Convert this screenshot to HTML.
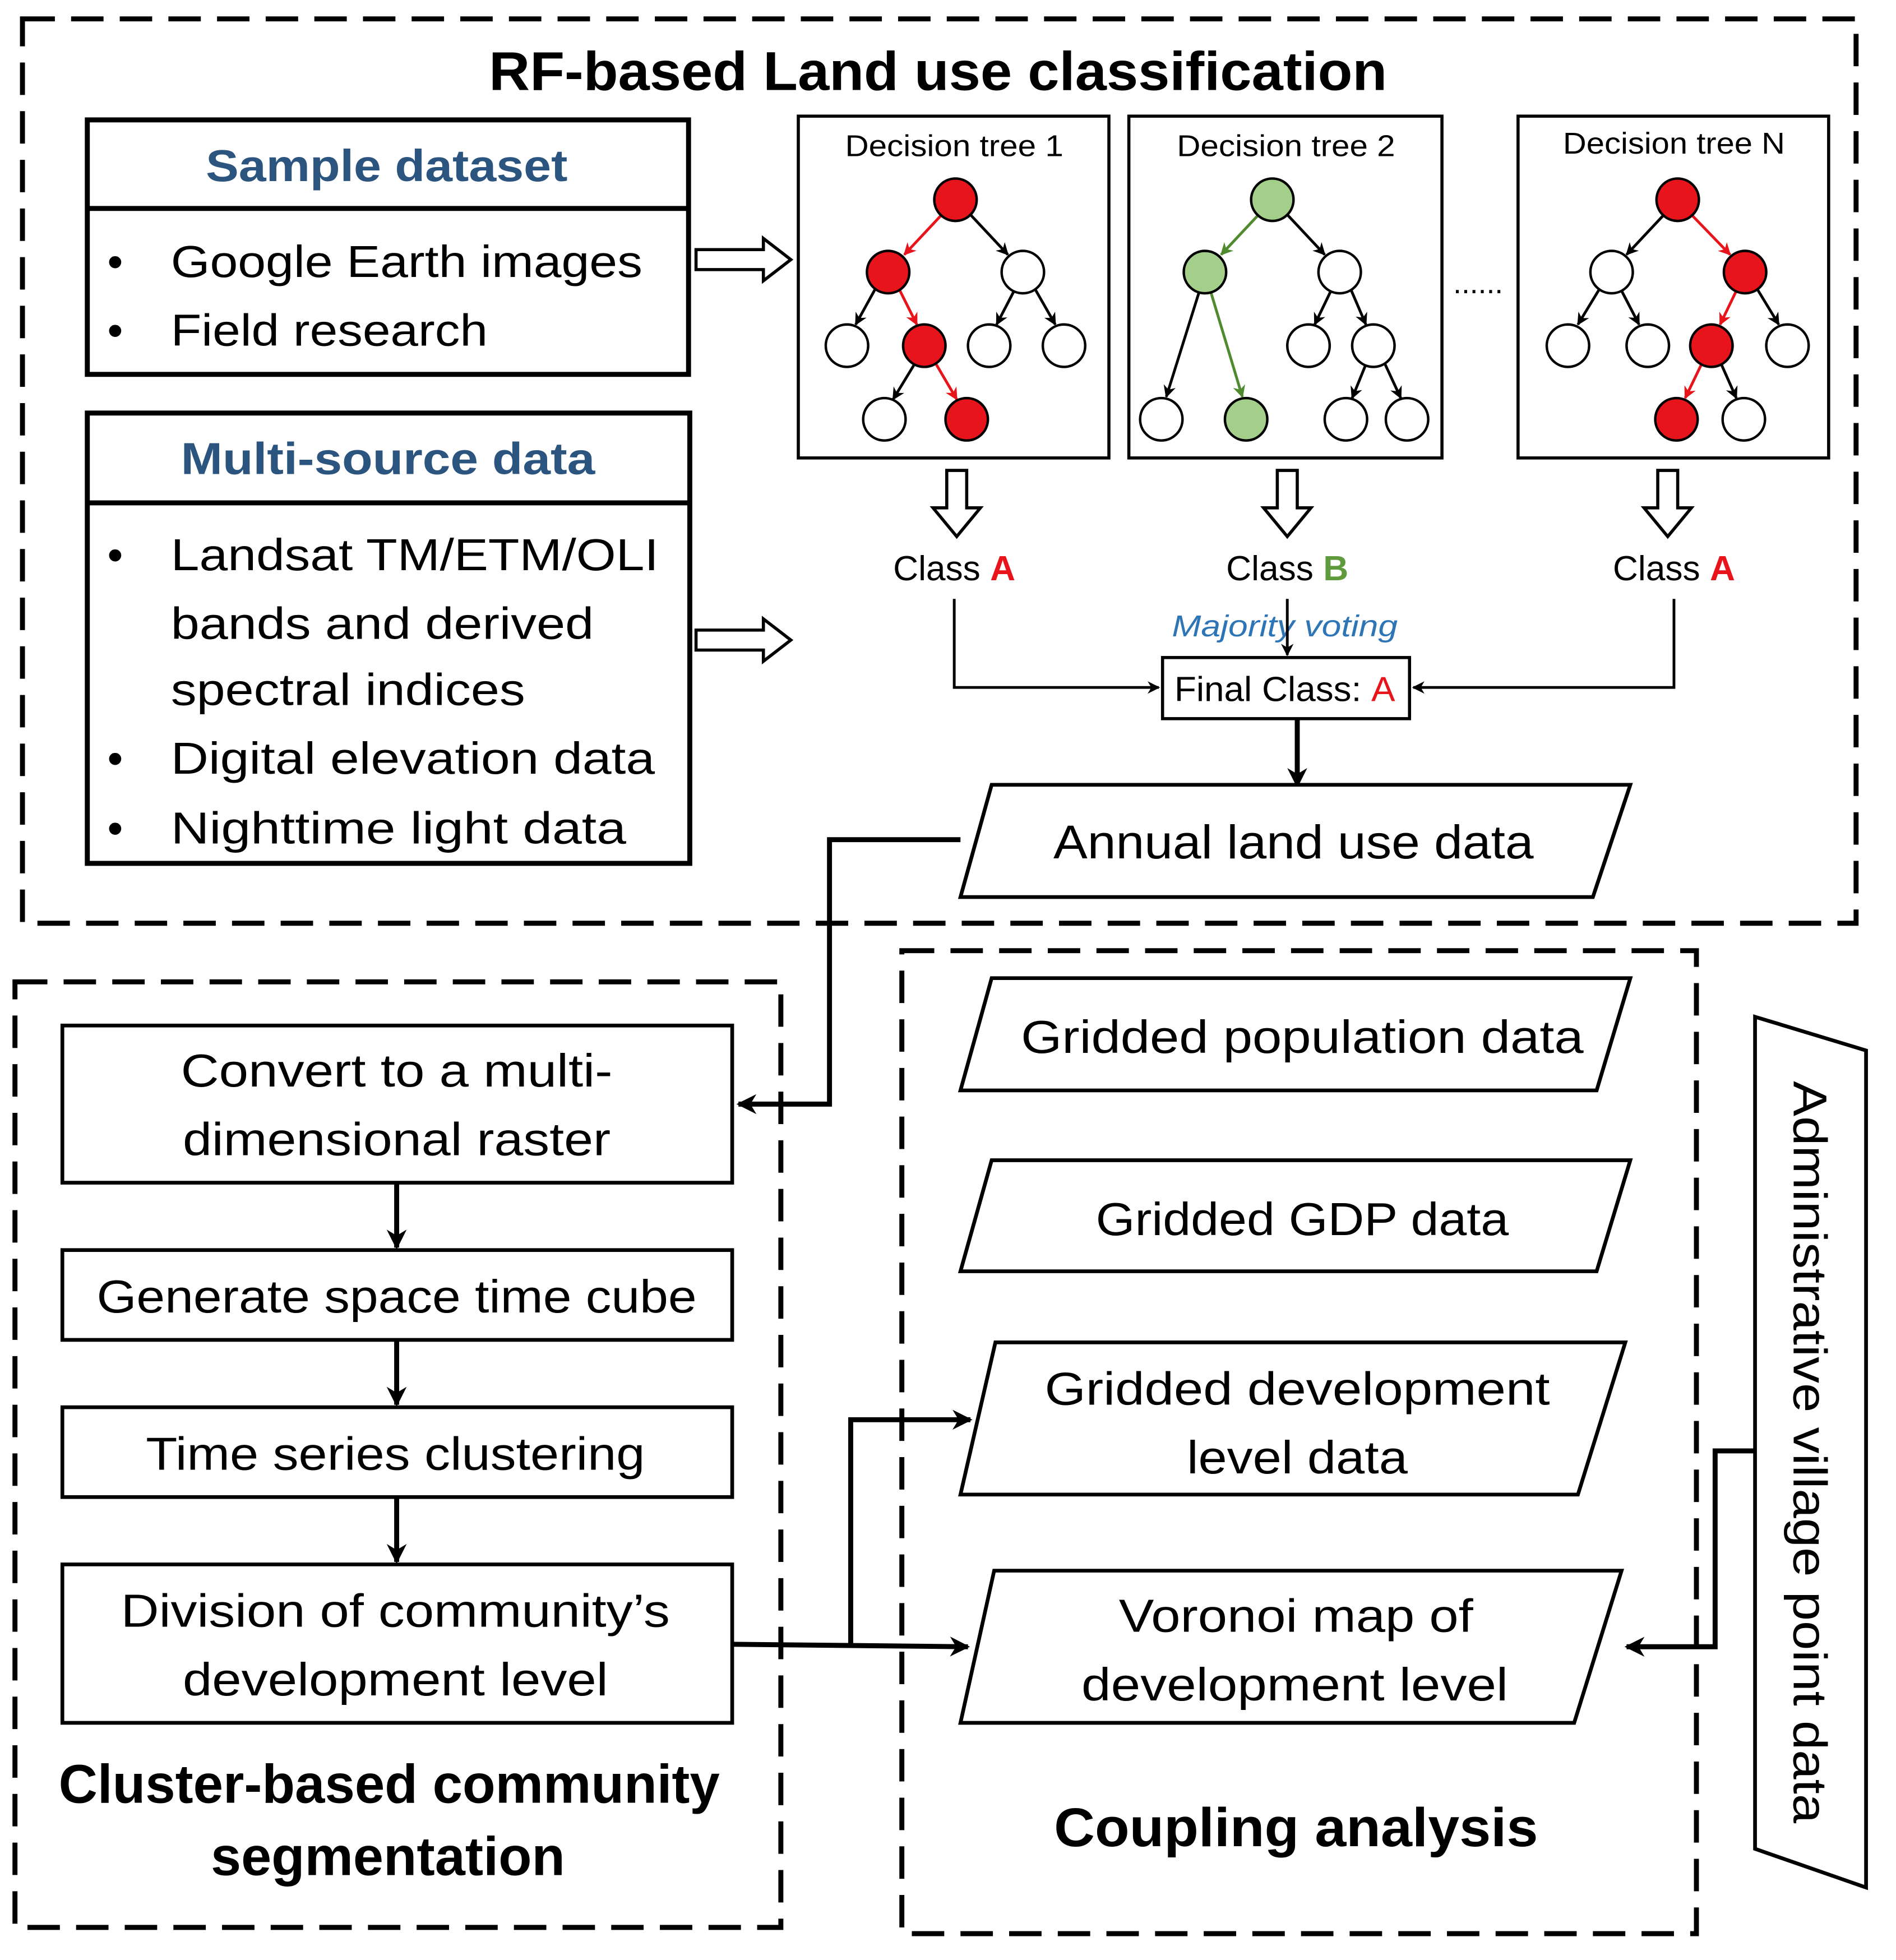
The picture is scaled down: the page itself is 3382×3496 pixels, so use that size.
<!DOCTYPE html>
<html><head><meta charset="utf-8"><style>
html,body{margin:0;padding:0;background:#fff;}
svg{display:block;}
text{font-family:"Liberation Sans",sans-serif;fill:#000;}
</style></head><body>
<svg width="3382" height="3496" viewBox="0 0 1520 1571" xmlns="http://www.w3.org/2000/svg">
<defs>
<marker id="ah" viewBox="0 0 10 10" refX="9" refY="5" markerWidth="7" markerHeight="7" orient="auto" markerUnits="userSpaceOnUse"><path d="M0,0 L10,5 L0,10 z" fill="#000"/></marker>
<marker id="ahb" viewBox="0 0 10 10" refX="9" refY="5" markerWidth="16" markerHeight="16" orient="auto" markerUnits="userSpaceOnUse"><path d="M0,0 L10,5 L0,10 L3,5 z" fill="#000"/></marker>
<marker id="ar" viewBox="0 0 10 10" refX="9" refY="5" markerWidth="10" markerHeight="10" orient="auto" markerUnits="userSpaceOnUse"><path d="M0,0 L10,5 L0,10 L3,5 z" fill="#e8141b"/></marker>
<marker id="ak" viewBox="0 0 10 10" refX="9" refY="5" markerWidth="10" markerHeight="10" orient="auto" markerUnits="userSpaceOnUse"><path d="M0,0 L10,5 L0,10 L3,5 z" fill="#000"/></marker>
<marker id="ag" viewBox="0 0 10 10" refX="9" refY="5" markerWidth="10" markerHeight="10" orient="auto" markerUnits="userSpaceOnUse"><path d="M0,0 L10,5 L0,10 L3,5 z" fill="#4f8a2f"/></marker>
</defs>
<rect width="1520" height="1571" fill="#fff"/>

<!-- dashed regions -->
<g fill="none" stroke="#000" stroke-width="4" stroke-dasharray="26,13">
<rect x="18" y="15" width="1470" height="725"/>
<rect x="12" y="787" width="614" height="758"/>
<rect x="723" y="762" width="637" height="788"/>
</g>

<text x="752" y="72" font-size="44" font-weight="bold" text-anchor="middle" textLength="720" lengthAdjust="spacingAndGlyphs">RF-based Land use classification</text>

<!-- Sample dataset -->
<g fill="none" stroke="#000" stroke-width="4">
<rect x="70" y="96" width="482" height="204"/>
<line x1="70" y1="167" x2="552" y2="167"/>
<rect x="70" y="331" width="483" height="361"/>
<line x1="70" y1="403" x2="553" y2="403"/>
</g>
<text x="310" y="145" font-size="36" font-weight="bold" fill="#2b557f" style="fill:#2b557f" text-anchor="middle" textLength="290" lengthAdjust="spacingAndGlyphs">Sample dataset</text>
<g font-size="36">
<text x="86" y="222">•</text><text x="137" y="222" textLength="378" lengthAdjust="spacingAndGlyphs">Google Earth images</text>
<text x="86" y="277">•</text><text x="137" y="277" textLength="254" lengthAdjust="spacingAndGlyphs">Field research</text>
</g>
<text x="311" y="380" font-size="36" font-weight="bold" style="fill:#2b557f" text-anchor="middle" textLength="332" lengthAdjust="spacingAndGlyphs">Multi-source data</text>
<g font-size="36">
<text x="86" y="457">•</text><text x="137" y="457" textLength="391" lengthAdjust="spacingAndGlyphs">Landsat TM/ETM/OLI</text>
<text x="137" y="512" textLength="339" lengthAdjust="spacingAndGlyphs">bands and derived</text>
<text x="137" y="565" textLength="284" lengthAdjust="spacingAndGlyphs">spectral indices</text>
<text x="86" y="620">•</text><text x="137" y="620" textLength="388" lengthAdjust="spacingAndGlyphs">Digital elevation data</text>
<text x="86" y="676">•</text><text x="137" y="676" textLength="365" lengthAdjust="spacingAndGlyphs">Nighttime light data</text>
</g>

<!-- hollow right arrows -->
<g fill="#fff" stroke="#000" stroke-width="2.5">
<path d="M558,200 L612,200 L612,191 L634,208 L612,225 L612,216 L558,216 z"/>
<path d="M558,505 L612,505 L612,496 L634,513 L612,530 L612,521 L558,521 z"/>
</g>

<!-- decision tree boxes -->
<g fill="none" stroke="#000" stroke-width="2.5">
<rect x="640" y="93" width="249" height="274"/>
<rect x="905" y="93" width="251" height="274"/>
<rect x="1217" y="93" width="249" height="274"/>
</g>
<g font-size="24" text-anchor="middle">
<text x="765" y="125" textLength="175" lengthAdjust="spacingAndGlyphs">Decision tree 1</text>
<text x="1031" y="125" textLength="175" lengthAdjust="spacingAndGlyphs">Decision tree 2</text>
<text x="1342" y="123" textLength="178" lengthAdjust="spacingAndGlyphs">Decision tree N</text>
</g>
<text x="1185" y="235" font-size="24" text-anchor="middle">......</text>

<!-- Tree 1 edges -->
<g stroke-width="2.2">
<line x1="755" y1="172" x2="725" y2="204" stroke="#e8141b" marker-end="url(#ar)"/>
<line x1="778" y1="172" x2="808" y2="204" stroke="#000" marker-end="url(#ak)"/>
<line x1="702" y1="231" x2="686" y2="260" stroke="#000" marker-end="url(#ak)"/>
<line x1="721" y1="232" x2="735" y2="260" stroke="#e8141b" marker-end="url(#ar)"/>
<line x1="813" y1="233" x2="799" y2="260" stroke="#000" marker-end="url(#ak)"/>
<line x1="830" y1="232" x2="846" y2="260" stroke="#000" marker-end="url(#ak)"/>
<line x1="733" y1="292" x2="716" y2="320" stroke="#000" marker-end="url(#ak)"/>
<line x1="750" y1="291" x2="767" y2="320" stroke="#e8141b" marker-end="url(#ar)"/>
</g>
<!-- Tree 2 edges -->
<g stroke-width="2.2">
<line x1="1009" y1="172" x2="979" y2="204" stroke="#4f8a2f" marker-end="url(#ag)"/>
<line x1="1032" y1="172" x2="1062" y2="204" stroke="#000" marker-end="url(#ak)"/>
<line x1="961" y1="235" x2="935" y2="318" stroke="#000" marker-end="url(#ak)"/>
<line x1="971" y1="235" x2="996" y2="318" stroke="#4f8a2f" marker-end="url(#ag)"/>
<line x1="1067" y1="233" x2="1054" y2="260" stroke="#000" marker-end="url(#ak)"/>
<line x1="1083" y1="232" x2="1095" y2="260" stroke="#000" marker-end="url(#ak)"/>
<line x1="1095" y1="292" x2="1084" y2="319" stroke="#000" marker-end="url(#ak)"/>
<line x1="1110" y1="291" x2="1123" y2="319" stroke="#000" marker-end="url(#ak)"/>
</g>
<!-- Tree N edges -->
<g stroke-width="2.2">
<line x1="1334" y1="172" x2="1304" y2="204" stroke="#000" marker-end="url(#ak)"/>
<line x1="1356" y1="172" x2="1387" y2="204" stroke="#e8141b" marker-end="url(#ar)"/>
<line x1="1282" y1="232" x2="1265" y2="260" stroke="#000" marker-end="url(#ak)"/>
<line x1="1300" y1="233" x2="1314" y2="260" stroke="#000" marker-end="url(#ak)"/>
<line x1="1392" y1="233" x2="1379" y2="260" stroke="#e8141b" marker-end="url(#ar)"/>
<line x1="1409" y1="232" x2="1426" y2="260" stroke="#000" marker-end="url(#ak)"/>
<line x1="1364" y1="292" x2="1351" y2="319" stroke="#e8141b" marker-end="url(#ar)"/>
<line x1="1380" y1="292" x2="1392" y2="319" stroke="#000" marker-end="url(#ak)"/>
</g>
<!-- nodes -->
<g stroke="#000" stroke-width="2">
<circle cx="766" cy="160" r="17" fill="#e8141b"/>
<circle cx="712" cy="218" r="17" fill="#e8141b"/>
<circle cx="820" cy="218" r="17" fill="#fff"/>
<circle cx="679" cy="277" r="17" fill="#fff"/>
<circle cx="741" cy="277" r="17" fill="#e8141b"/>
<circle cx="793" cy="277" r="17" fill="#fff"/>
<circle cx="853" cy="277" r="17" fill="#fff"/>
<circle cx="709" cy="336" r="17" fill="#fff"/>
<circle cx="775" cy="336" r="17" fill="#e8141b"/>

<circle cx="1020" cy="160" r="17" fill="#a3cf8a"/>
<circle cx="966" cy="218" r="17" fill="#a3cf8a"/>
<circle cx="1074" cy="218" r="17" fill="#fff"/>
<circle cx="1049" cy="277" r="17" fill="#fff"/>
<circle cx="1101" cy="277" r="17" fill="#fff"/>
<circle cx="931" cy="336" r="17" fill="#fff"/>
<circle cx="999" cy="336" r="17" fill="#a3cf8a"/>
<circle cx="1079" cy="336" r="17" fill="#fff"/>
<circle cx="1128" cy="336" r="17" fill="#fff"/>

<circle cx="1345" cy="160" r="17" fill="#e8141b"/>
<circle cx="1292" cy="218" r="17" fill="#fff"/>
<circle cx="1399" cy="218" r="17" fill="#e8141b"/>
<circle cx="1257" cy="277" r="17" fill="#fff"/>
<circle cx="1321" cy="277" r="17" fill="#fff"/>
<circle cx="1372" cy="277" r="17" fill="#e8141b"/>
<circle cx="1433" cy="277" r="17" fill="#fff"/>
<circle cx="1344" cy="336" r="17" fill="#e8141b"/>
<circle cx="1398" cy="336" r="17" fill="#fff"/>
</g>

<!-- hollow down arrows -->
<g fill="#fff" stroke="#000" stroke-width="2.5">
<path d="M759,377 L775,377 L775,407 L786,407 L767,430 L748,407 L759,407 z"/>
<path d="M1024,377 L1040,377 L1040,407 L1051,407 L1032,430 L1013,407 L1024,407 z"/>
<path d="M1329,377 L1345,377 L1345,407 L1356,407 L1337,430 L1318,407 L1329,407 z"/>
</g>
<g font-size="28" text-anchor="middle">
<text x="765" y="465">Class <tspan font-weight="bold" style="fill:#e8141b">A</tspan></text>
<text x="1032" y="465">Class <tspan font-weight="bold" style="fill:#5f9a3c">B</tspan></text>
<text x="1342" y="465">Class <tspan font-weight="bold" style="fill:#e8141b">A</tspan></text>
</g>
<text x="1030" y="510" font-size="24" font-style="italic" style="fill:#2e75b6" text-anchor="middle" textLength="181" lengthAdjust="spacingAndGlyphs">Majority voting</text>

<g fill="none" stroke="#000" stroke-width="2.2">
<polyline points="765,480 765,551 929,551" marker-end="url(#ak)"/>
<polyline points="1342,480 1342,551 1133,551" marker-end="url(#ak)"/>
<line x1="1032" y1="480" x2="1032" y2="525" marker-end="url(#ak)"/>
</g>
<rect x="932" y="527" width="198" height="49" fill="#fff" stroke="#000" stroke-width="2.5"/>
<text x="1030" y="562" font-size="28" text-anchor="middle" textLength="177" lengthAdjust="spacingAndGlyphs">Final Class: <tspan style="fill:#e8141b">A</tspan></text>
<line x1="1040" y1="576" x2="1040" y2="630" stroke="#000" stroke-width="4" marker-end="url(#ahb)"/>

<!-- Annual land use data -->
<polygon points="795,629 1307,629 1277,719 770,719" fill="#fff" stroke="#000" stroke-width="3"/>
<text x="1037" y="688" font-size="38" text-anchor="middle" textLength="385" lengthAdjust="spacingAndGlyphs">Annual land use data</text>
<polyline points="770,673 665,673 665,885 592,885" fill="none" stroke="#000" stroke-width="4" marker-end="url(#ahb)"/>

<!-- left column -->
<g fill="#fff" stroke="#000" stroke-width="3">
<rect x="50" y="822" width="537" height="126"/>
<rect x="50" y="1002" width="537" height="72"/>
<rect x="50" y="1128" width="537" height="72"/>
<rect x="50" y="1254" width="537" height="127"/>
</g>
<g font-size="37" text-anchor="middle">
<text x="318" y="871" textLength="346" lengthAdjust="spacingAndGlyphs">Convert to a multi-</text>
<text x="318" y="926" textLength="343" lengthAdjust="spacingAndGlyphs">dimensional raster</text>
<text x="318" y="1052" textLength="481" lengthAdjust="spacingAndGlyphs">Generate space time cube</text>
<text x="317" y="1178" textLength="400" lengthAdjust="spacingAndGlyphs">Time series clustering</text>
<text x="317" y="1304" textLength="440" lengthAdjust="spacingAndGlyphs">Division of community’s</text>
<text x="317" y="1359" textLength="341" lengthAdjust="spacingAndGlyphs">development level</text>
</g>
<g stroke="#000" stroke-width="4">
<line x1="318" y1="948" x2="318" y2="1000" marker-end="url(#ahb)"/>
<line x1="318" y1="1074" x2="318" y2="1126" marker-end="url(#ahb)"/>
<line x1="318" y1="1200" x2="318" y2="1252" marker-end="url(#ahb)"/>
</g>
<g font-size="44" font-weight="bold" text-anchor="middle">
<text x="312" y="1445" textLength="530" lengthAdjust="spacingAndGlyphs">Cluster-based community</text>
<text x="311" y="1503" textLength="284" lengthAdjust="spacingAndGlyphs">segmentation</text>
</g>

<!-- right column -->
<g fill="#fff" stroke="#000" stroke-width="3">
<polygon points="795,784 1307,784 1280,874 770,874"/>
<polygon points="795,930 1307,930 1280,1019 770,1019"/>
<polygon points="798,1076 1303,1076 1265,1198 770,1198"/>
<polygon points="797,1259 1300,1259 1262,1381 770,1381"/>
</g>
<g font-size="37" text-anchor="middle">
<text x="1044" y="844" textLength="451" lengthAdjust="spacingAndGlyphs">Gridded population data</text>
<text x="1044" y="990" textLength="331" lengthAdjust="spacingAndGlyphs">Gridded GDP data</text>
<text x="1040" y="1126" textLength="405" lengthAdjust="spacingAndGlyphs">Gridded development</text>
<text x="1040" y="1181" textLength="177" lengthAdjust="spacingAndGlyphs">level data</text>
<text x="1039" y="1308" textLength="284" lengthAdjust="spacingAndGlyphs">Voronoi map of</text>
<text x="1038" y="1363" textLength="342" lengthAdjust="spacingAndGlyphs">development level</text>
</g>
<text x="1039" y="1480" font-size="44" font-weight="bold" text-anchor="middle" textLength="388" lengthAdjust="spacingAndGlyphs">Coupling analysis</text>

<g fill="none" stroke="#000" stroke-width="4">
<line x1="587" y1="1318" x2="776" y2="1320" marker-end="url(#ahb)"/>
<polyline points="682,1318 682,1138 778,1138" marker-end="url(#ahb)"/>
<polyline points="1407,1163 1375,1163 1375,1320 1304,1320" marker-end="url(#ahb)"/>
</g>

<!-- Administrative village point data -->
<polygon points="1407,815 1496,842 1496,1513 1407,1482" fill="#fff" stroke="#000" stroke-width="3"/>
<text transform="translate(1438,1164) rotate(90)" font-size="38" text-anchor="middle" textLength="595" lengthAdjust="spacingAndGlyphs">Administrative village point data</text>
</svg>
</body></html>
